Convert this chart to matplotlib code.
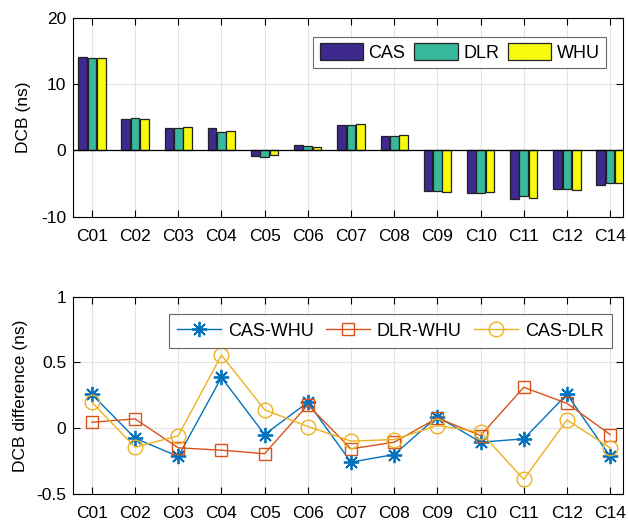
import matplotlib
matplotlib.use("Agg")
import matplotlib.pyplot as plt
import numpy as np

plt.rcParams['font.family'] = ['Liberation Sans', 'DejaVu Sans']
plt.rcParams['axes.unicode_minus'] = False

categories = ["C01", "C02", "C03", "C04", "C05", "C06", "C07", "C08", "C09", "C10", "C11", "C12", "C14"]
cas = [14.17, 4.72, 3.37, 3.37, -0.80, 0.80, 3.82, 2.16, -6.18, -6.48, -7.29, -5.78, -5.18]
dlr = [14.00, 4.87, 3.42, 2.76, -0.95, 0.75, 3.87, 2.21, -6.18, -6.38, -6.83, -5.78, -4.97]
whu = [13.97, 4.82, 3.52, 2.91, -0.75, 0.55, 4.02, 2.31, -6.28, -6.33, -7.19, -5.98, -4.97]

cas_whu = [0.258, -0.076, -0.215, 0.386, -0.048, 0.197, -0.258, -0.200, 0.088, -0.106, -0.081, 0.258, -0.215]
dlr_whu = [0.045, 0.071, -0.149, -0.167, -0.194, 0.177, -0.157, -0.106, 0.078, -0.056, 0.311, 0.189, -0.048]
cas_dlr = [0.197, -0.144, -0.058, 0.556, 0.141, 0.013, -0.098, -0.086, 0.020, -0.030, -0.389, 0.063, -0.149]

x = np.arange(1, len(categories) + 1)

fig = plt.figure(figsize=(6.28, 5.24), dpi=100)
ax1 = fig.add_axes([0.1167, 0.5865, 0.8748, 0.379])
ax2 = fig.add_axes([0.1167, 0.0573, 0.8748, 0.3765])

bar_colors = ['#3E2A8F', '#38B99E', '#F8FA0D']
w = 0.2
off = 0.216
for i, (vals, c, lab) in enumerate(zip([cas, dlr, whu], bar_colors, ["CAS", "DLR", "WHU"])):
    ax1.bar(x + (i - 1) * off, vals, width=w, color=c, edgecolor='#222222', linewidth=0.9, label=lab, zorder=3)
ax1.axhline(0, color='black', lw=0.9, zorder=4)
ax1.set_ylim(-10, 20)
ax1.set_yticks([-10, 0, 10, 20])
ax1.set_ylabel("DCB (ns)", fontsize=12.5, labelpad=7)

ax2.plot(x, cas_whu, color='#0072BD', marker=(8, 2, 0), markersize=11, lw=1, label="CAS-WHU", markeredgewidth=1.3)
ax2.plot(x, dlr_whu, color='#D95319', marker='s', markersize=9, lw=1, label="DLR-WHU", markerfacecolor='none', markeredgewidth=1)
ax2.plot(x, cas_dlr, color='#EDB120', marker='o', markersize=10.5, lw=1, label="CAS-DLR", markerfacecolor='none', markeredgewidth=1)
ax2.set_ylim(-0.5, 1)
ax2.set_yticks([-0.5, 0, 0.5, 1])
ax2.set_yticklabels(["-0.5", "0", "0.5", "1"])
ax2.set_ylabel("DCB difference (ns)", fontsize=12.5, labelpad=6)

for ax in (ax1, ax2):
    ax.set_xlim(0.57, 13.29)
    ax.set_xticks(x)
    ax.set_xticklabels(categories)
    ax.tick_params(axis='x', pad=9)
    ax.tick_params(direction='in', top=True, right=True, labelsize=12.5, length=5, width=0.8)
    ax.tick_params(axis='y', pad=5)
    ax.grid(True, color='#E3E3E3', lw=0.8, zorder=0)
    ax.set_axisbelow(True)
    for s in ax.spines.values():
        s.set_linewidth(0.8)

leg1 = ax1.legend(ncol=3, loc='upper right', bbox_to_anchor=(0.97, 0.905), fontsize=13, frameon=True,
                  fancybox=False, edgecolor='#444444', handlelength=2.4, handleheight=1.05, columnspacing=0.5,
                  handletextpad=0.3, borderpad=0.35, borderaxespad=0)
leg1.get_frame().set_linewidth(0.8)
leg2 = ax2.legend(ncol=3, loc='upper right', bbox_to_anchor=(0.98, 0.91), fontsize=13, frameon=True,
                  fancybox=False, edgecolor='#444444', handlelength=2.4, columnspacing=0.7,
                  handletextpad=0.4, borderpad=0.45, borderaxespad=0)
leg2.get_frame().set_linewidth(0.8)

fig.savefig("out.png", dpi=100)
